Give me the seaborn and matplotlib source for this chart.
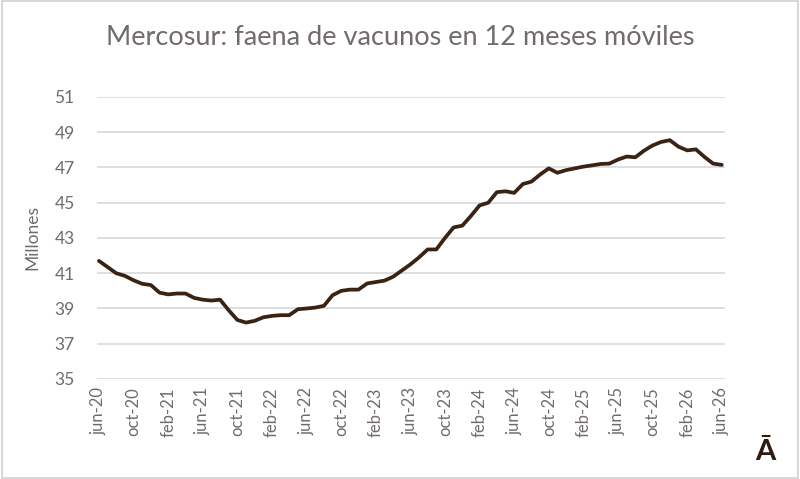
import numpy as np
import pandas as pd
import matplotlib
matplotlib.use("Agg")
import matplotlib.pyplot as plt
import seaborn as sns
from matplotlib.patches import Rectangle

# faena de vacunos, 12 meses moviles (millones de cabezas), jun-20 .. jun-26
faena = [
    41.70, 41.35, 41.00, 40.85, 40.60, 40.40, 40.33, 39.90, 39.80, 39.85,
    39.85, 39.60, 39.50, 39.45, 39.50, 38.90, 38.35, 38.20, 38.30, 38.50,
    38.58, 38.62, 38.62, 38.96, 39.00, 39.05, 39.15, 39.75, 40.00, 40.07,
    40.07, 40.42, 40.50, 40.58, 40.80, 41.15, 41.50, 41.90, 42.35, 42.35,
    43.00, 43.60, 43.70, 44.25, 44.85, 45.00, 45.60, 45.65, 45.56, 46.06,
    46.20, 46.60, 46.95, 46.70, 46.85, 46.95, 47.05, 47.12, 47.20, 47.22,
    47.45, 47.62, 47.58, 47.95, 48.25, 48.45, 48.55, 48.18, 47.97, 48.03,
    47.60, 47.22, 47.15,
]
meses = ["ene", "feb", "mar", "abr", "may", "jun", "jul", "ago", "sep", "oct", "nov", "dic"]
fechas = [f"{meses[(5 + i) % 12]}-{20 + (5 + i) // 12}" for i in range(len(faena))]
yticks = [35, 37, 39, 41, 43, 45, 47, 49, 51]

df = pd.DataFrame({"pos": np.arange(len(faena)), "faena": faena, "fecha": fechas})

sns.set_style("white")
plt.rcParams["font.family"] = ["Lato", "DejaVu Sans"]
gris = "#716b6e"

fig = plt.figure(figsize=(8, 4.79), dpi=100)
fig.patches.append(Rectangle((0.002, 0.002), 0.996, 0.996, transform=fig.transFigure,
                             fill=False, edgecolor="#d0d0d0", linewidth=1.2))
ax = fig.add_axes([0.121, 0.2088, 0.785, 0.5887])

for v in yticks:
    ax.axhline(v, color="#d9d9d9", linewidth=1.2, zorder=0)

sns.lineplot(data=df, x="pos", y="faena", ax=ax, color="#3b2314", linewidth=2.7)

ax.set_ylim(35, 51)
ax.set_xlim(-0.25, 72.35)
ax.set_yticks(yticks)
ax.set_yticklabels([str(v) for v in yticks], color=gris, fontsize=12.5)
xt = list(range(0, len(faena), 4))
ax.set_xticks(xt)
ax.set_xticklabels([fechas[i] for i in xt], rotation=90, color=gris, fontsize=12)
ax.tick_params(axis="y", length=0, pad=16)
ax.tick_params(axis="x", length=0, pad=6)
for s in ax.spines.values():
    s.set_visible(False)

ax.set_xlabel("")
ax.set_ylabel("Millones", color=gris, fontsize=12.5, labelpad=10)
fig.text(0.5, 0.922, "Mercosur: faena de vacunos en 12 meses móviles",
         ha="center", va="center", fontsize=19.5, color=gris)
fig.text(0.957, 0.03, "Ā", ha="center", va="bottom", fontsize=21,
         fontweight="bold", color="#2e1a0e")

fig.savefig("out.png", dpi=100)
